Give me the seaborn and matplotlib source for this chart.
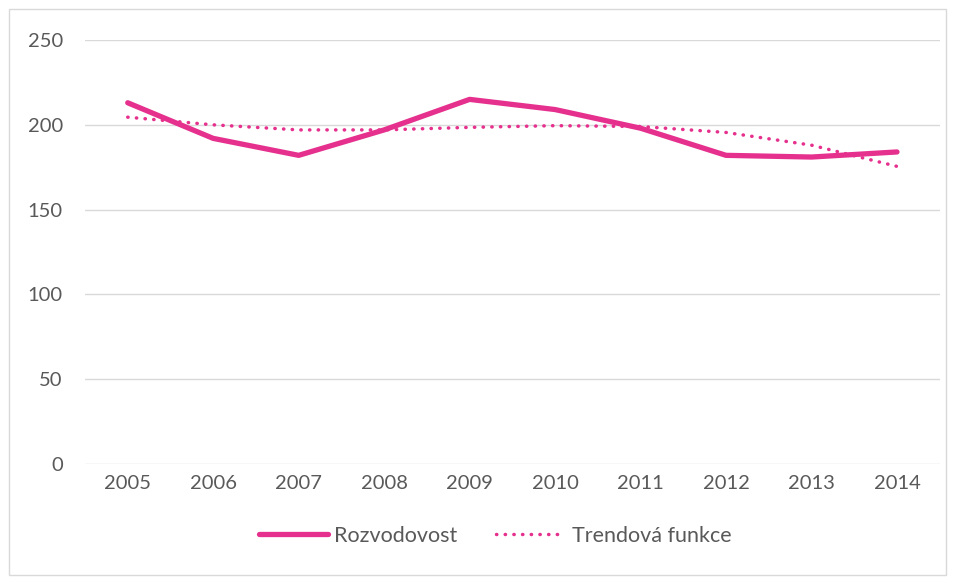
import matplotlib
matplotlib.use("Agg")
import matplotlib.pyplot as plt
import seaborn as sns
import pandas as pd
from matplotlib.patches import Rectangle

years = ['2005', '2006', '2007', '2008', '2009', '2010', '2011', '2012', '2013', '2014']
rozvodovost = [213, 192, 182, 197, 215, 209, 198, 182, 181, 184]
trend = [204.5, 200, 197, 197, 198.5, 199.5, 199, 195.5, 188, 175.5]

pink = '#E6308E'
grey_text = '#595959'

sns.set_style("white")
plt.rcParams['font.family'] = ['Lato', 'DejaVu Sans']

df = pd.DataFrame({'Rok': years, 'Rozvodovost': rozvodovost, 'Trendová funkce': trend})

fig = plt.figure(figsize=(9.55, 5.8), dpi=100)
ax = fig.add_axes([0.089, 0.2, 0.895, 0.731])

sns.lineplot(x='Rok', y='Rozvodovost', data=df, ax=ax, color=pink, linewidth=3.8,
             label='Rozvodovost', solid_capstyle='round', sort=False)
sns.lineplot(x='Rok', y='Trendová funkce', data=df, ax=ax, color=pink, linewidth=2.5,
             linestyle=(0, (0.1, 2.4)), dash_capstyle='round', label='Trendová funkce', sort=False)

ax.set_ylim(0, 250)
ax.set_xlim(-0.5, 9.5)
ax.set_yticks(range(0, 251, 50))
ax.yaxis.grid(True, color='#D9D9D9', linewidth=1)
ax.xaxis.grid(False)
for s in ax.spines.values():
    s.set_visible(False)
ax.set_xlabel('')
ax.set_ylabel('')
ax.tick_params(axis='both', length=0, labelsize=14.5, labelcolor=grey_text)
ax.tick_params(axis='y', pad=16)
ax.tick_params(axis='x', pad=8)

leg = ax.legend(loc='upper center', bbox_to_anchor=(0.48, -0.1), ncol=2, frameon=False,
                fontsize=15.5, handlelength=3.2, columnspacing=1.8, handletextpad=0.3)
for t in leg.get_texts():
    t.set_color(grey_text)

fig.patches.append(Rectangle((9 / 955, 5 / 580), 937 / 955, 566 / 580, transform=fig.transFigure,
                             fill=False, edgecolor='#D9D9D9', linewidth=1))

fig.savefig('out.png', dpi=100)
